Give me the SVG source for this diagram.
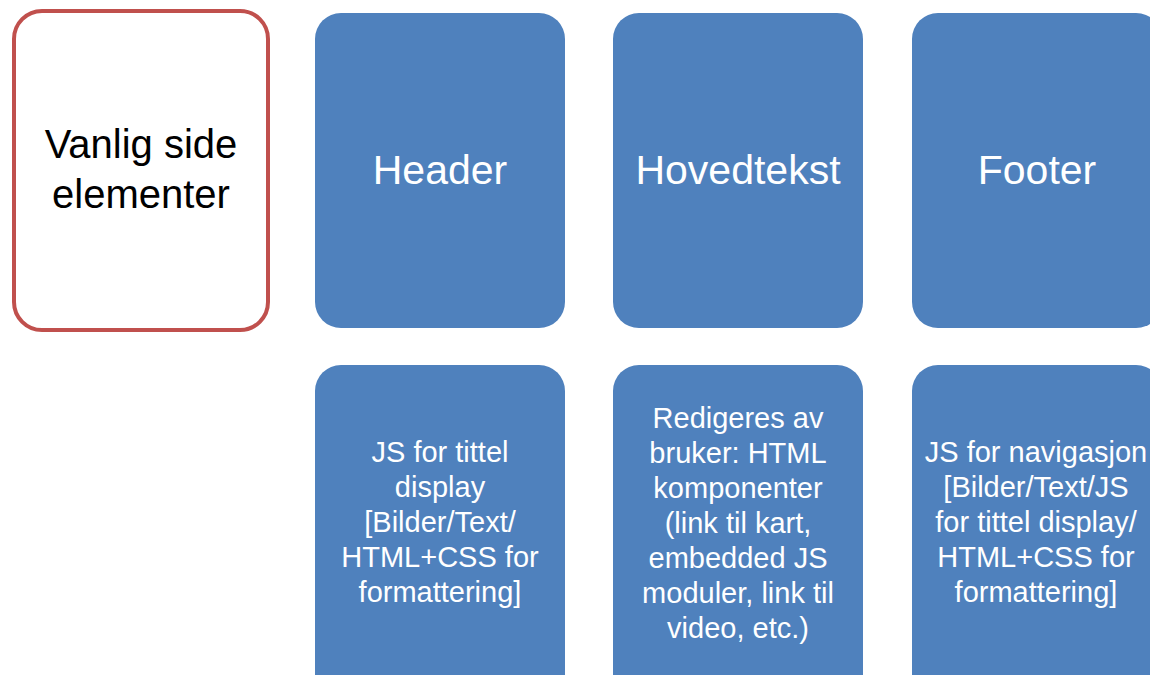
<svg xmlns="http://www.w3.org/2000/svg" width="1150" height="675" viewBox="0 0 1150 675">
  <style>
    .blue { fill: #4F81BD; }
    .title { font-family: "Liberation Sans", Arial, sans-serif; font-size: 41px; fill: #FFFFFF; text-anchor: middle; }
    .body { font-family: "Liberation Sans", Arial, sans-serif; font-size: 29px; fill: #FFFFFF; text-anchor: middle; }
    .label { font-family: "Liberation Sans", Arial, sans-serif; font-size: 40px; fill: #000000; text-anchor: middle; }
  </style>
  <rect width="1150" height="675" fill="#FFFFFF"/>

  <!-- row label -->
  <g id="vanlig-side">
    <rect x="14" y="11" width="254" height="319" rx="28" ry="28" fill="#FFFFFF" stroke="#C0504D" stroke-width="4"/>
    <text class="label" x="141" y="158">Vanlig side</text>
    <text class="label" x="141" y="208">elementer</text>
  </g>

  <!-- top row: page sections -->
  <g id="header">
    <rect class="blue" x="315" y="13" width="250" height="315" rx="26" ry="26"/>
    <text class="title" x="440" y="184">Header</text>
  </g>
  <g id="hovedtekst">
    <rect class="blue" x="613" y="13" width="250" height="315" rx="26" ry="26"/>
    <text class="title" x="738" y="184">Hovedtekst</text>
  </g>
  <g id="footer">
    <rect class="blue" x="912" y="13" width="250" height="315" rx="26" ry="26"/>
    <text class="title" x="1037" y="184">Footer</text>
  </g>

  <!-- bottom row: section contents -->
  <g id="header-innhold">
    <rect class="blue" x="315" y="365" width="250" height="340" rx="26" ry="26"/>
    <text class="body" x="440" y="462">JS for tittel</text>
    <text class="body" x="440" y="497">display</text>
    <text class="body" x="440" y="532">[Bilder/Text/</text>
    <text class="body" x="440" y="567">HTML+CSS for</text>
    <text class="body" x="440" y="602">formattering]</text>
  </g>
  <g id="hovedtekst-innhold">
    <rect class="blue" x="613" y="365" width="250" height="340" rx="26" ry="26"/>
    <text class="body" x="738" y="428">Redigeres av</text>
    <text class="body" x="738" y="463">bruker: HTML</text>
    <text class="body" x="738" y="498">komponenter</text>
    <text class="body" x="738" y="533">(link til kart,</text>
    <text class="body" x="738" y="568">embedded JS</text>
    <text class="body" x="738" y="603">moduler, link til</text>
    <text class="body" x="738" y="638">video, etc.)</text>
  </g>
  <g id="footer-innhold">
    <rect class="blue" x="912" y="365" width="250" height="340" rx="26" ry="26"/>
    <text class="body" x="1036" y="462">JS for navigasjon</text>
    <text class="body" x="1036" y="497">[Bilder/Text/JS</text>
    <text class="body" x="1036" y="532">for tittel display/</text>
    <text class="body" x="1036" y="567">HTML+CSS for</text>
    <text class="body" x="1036" y="602">formattering]</text>
  </g>

  <g id="connectors"/>
</svg>
